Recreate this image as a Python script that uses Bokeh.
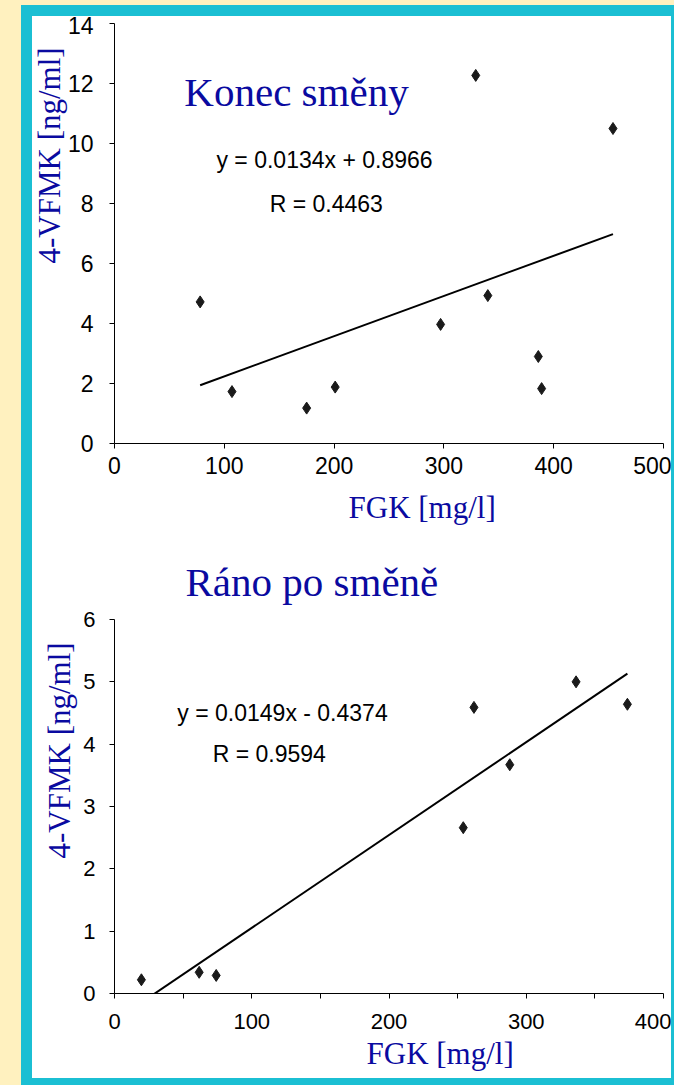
import numpy as np
from bokeh.plotting import figure
from bokeh.models import Range1d, FixedTicker, Label, ColumnDataSource, Title
from bokeh.layouts import column
from bokeh.embed import file_html
from bokeh.resources import INLINE

# ---------------- data ----------------
# Chart 1: "Konec směny"
fgk_1 = [78, 107, 175, 201, 297, 329, 340, 386, 389, 454]
vfmk_1 = [4.72, 1.73, 1.18, 1.88, 3.97, 12.27, 4.93, 2.90, 1.83, 10.50]
slope_1, intercept_1, r_1 = 0.0134, 0.8966, 0.4463
x_ticks_1 = [0, 100, 200, 300, 400, 500]
y_ticks_1 = [0, 2, 4, 6, 8, 10, 12, 14]

# Chart 2: "Ráno po směně"
fgk_2 = [19.6, 61.7, 74.1, 254.1, 261.9, 288.0, 336.3, 373.7]
vfmk_2 = [0.22, 0.34, 0.29, 2.66, 4.59, 3.67, 5.00, 4.64]
slope_2, intercept_2, r_2 = 0.0149, -0.4374, 0.9594
x_ticks_2 = [0, 100, 200, 300, 400]
x_minor_2 = [50, 150, 250, 350]
y_ticks_2 = [0, 1, 2, 3, 4, 5, 6]

BLUE = "#0A0AA0"
CYAN = "#1BBFD3"
YELLOW = "#FFF1BF"
SANS = "Liberation Sans"
SERIF = "Liberation Serif"


def make_fig(h, xr, yr, xt, xminor, yt, mbl, mbr, mbt, mbb, tick_size, xstand, ystand):
    p = figure(width=639, height=h, x_range=Range1d(*xr), y_range=Range1d(*yr),
               output_backend="svg", toolbar_location=None, title=None,
               min_border_left=mbl, min_border_right=mbr, min_border_top=mbt,
               min_border_bottom=mbb)
    p.xgrid.visible = False
    p.ygrid.visible = False
    p.outline_line_color = None
    p.background_fill_color = "white"
    p.border_fill_color = "white"
    p.xaxis.ticker = FixedTicker(ticks=xt, minor_ticks=xminor)
    p.yaxis.ticker = FixedTicker(ticks=yt, minor_ticks=[])
    for ax in (p.xaxis[0], p.yaxis[0]):
        ax.axis_line_color = "black"
        ax.axis_line_width = 1
        ax.major_tick_line_color = "black"
        ax.minor_tick_line_color = "black"
        ax.major_tick_in = 0
        ax.major_tick_out = 5
        ax.minor_tick_in = 0
        ax.minor_tick_out = 5
        ax.major_label_text_font = SANS
        ax.major_label_text_font_size = tick_size
        ax.major_label_text_color = "black"
    p.xaxis.major_label_standoff = xstand
    p.yaxis.major_label_standoff = ystand
    return p


def add_text(p, x, y, text, font, size, color="black", align="center"):
    p.add_layout(Label(x=x, y=y, x_units="screen", y_units="screen", text=text,
                       text_font=font, text_font_size=size, text_color=color,
                       text_align=align, text_baseline="alphabetic"))


def add_title(p, text, side, offset, standoff, size, valign="bottom"):
    p.add_layout(Title(text=text, align="left", offset=offset, standoff=standoff,
                       vertical_align=valign,
                       text_font=SERIF, text_font_size=size, text_font_style="normal",
                       text_color=BLUE), side)


def scatter_with_trend(p, xs, ys, slope, intercept):
    src = ColumnDataSource(dict(x=xs, y=ys))
    lx = np.array([min(xs), max(xs)], dtype=float)
    ly = slope * lx + intercept
    p.line(lx, ly, line_color="black", line_width=2)
    p.scatter("x", "y", source=src, marker="diamond", size=12,
              fill_color="#1a1a1a", line_color="#1a1a1a")


# ---------------- chart 1 ----------------
p1 = make_fig(530, (0, 500), (0, 14), x_ticks_1, [], y_ticks_1,
              82, 8, 7, 103, "23px", 8, 16)
scatter_with_trend(p1, fgk_1, vfmk_1, slope_1, intercept_1)
add_text(p1, 182, 352, "Konec směny", SERIF, "41px", BLUE)
add_text(p1, 210, 284, f"y = {slope_1}x + {intercept_1}", SANS, "23px")
add_text(p1, 215, 240, f"R  = {r_1}", SANS, "23px")
add_title(p1, "4-VFMK [ng/ml]", "left", 180, -5, "31px")
add_title(p1, "FGK [mg/l]", "below", 234, 23, "31px")

# ---------------- chart 2 ----------------
p2 = make_fig(532, (0, 400), (0, 6), x_ticks_2, x_minor_2, y_ticks_2,
              80, 7, 72, 85, "22px", 15, 14)
scatter_with_trend(p2, fgk_2, vfmk_2, slope_2, intercept_2)
add_text(p2, 168, 281, f"y = {slope_2}x - {abs(intercept_2)}", SANS, "23px")
add_text(p2, 158, 240, f"R  = {r_2}", SANS, "23px")
add_title(p2, "Ráno po směně", "above", 71, 25, "41px", valign="top")
add_title(p2, "4-VFMK [ng/ml]", "left", 135, 3, "31px", valign="top")
add_title(p2, "FGK [mg/l]", "below", 252, 4, "31px")

inner = column(p1, p2, spacing=0, margin=(5, 0, 0, 21),
               styles={"border": f"11px solid {CYAN}", "background-color": "white"})
outer = column(inner, width=674, height=1085, sizing_mode="fixed",
               styles={"background-color": YELLOW, "overflow": "hidden"})

open("out.html", "w").write(file_html(outer, INLINE))
